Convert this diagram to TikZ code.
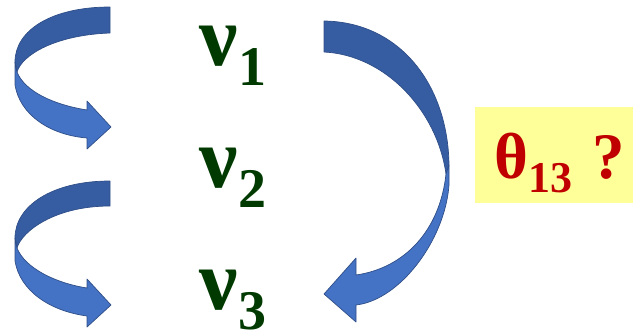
\documentclass[tikz,border=0pt]{standalone}
\usepackage{fontspec}
\newfontfamily\tnr{Liberation Serif}
\definecolor{darkface}{RGB}{54,92,162}
\definecolor{lightface}{RGB}{68,114,196}
\definecolor{edgeblue}{RGB}{47,78,135}
\definecolor{nugreen}{RGB}{0,58,0}
\definecolor{thetared}{RGB}{192,0,0}
\definecolor{boxyellow}{RGB}{255,255,153}
\tikzset{
  darkpart/.style={fill=darkface, draw=edgeblue, line width=0.7pt, line join=round},
  lightpart/.style={fill=lightface, draw=edgeblue, line width=0.7pt, line join=round},
  nulabel/.style={anchor=base west, inner sep=0pt, text height=42pt, text depth=20pt, text=nugreen, font=\tnr\bfseries\fontsize{86}{86}\selectfont},
  thetalabel/.style={anchor=base west, inner sep=0pt, text height=46pt, text depth=14pt, text=thetared, font=\tnr\bfseries\fontsize{65}{65}\selectfont},
}
\newcommand{\nusub}[1]{\raisebox{-20pt}{\fontsize{56}{56}\selectfont #1}}
\begin{document}
\begin{tikzpicture}[x=1pt,y=-1pt]
\useasboundingbox (0,0) rectangle (633,335);
% top-left curved arrow
\begin{scope}
\path[darkpart] (110,7) .. controls (52,7) and (15,30) .. (15,62) -- (17,72)
  .. controls (22,55) and (55,35) .. (110,33) -- cycle;
\path[lightpart] (15,62) -- (15,85) .. controls (20,115) and (50,135) .. (87,138)
  -- (87,149) -- (111,127) -- (87,101) -- (87,110)
  .. controls (55,105) and (25,92) .. (17,72) -- cycle;
\end{scope}
% bottom-left curved arrow
\begin{scope}[yshift=-176pt]
\path[darkpart] (110,5) .. controls (52,5) and (15,30) .. (15,62) -- (17,72)
  .. controls (22,55) and (55,30) .. (110,30) -- cycle;
\path[lightpart] (15,62) -- (15,85) .. controls (20,115) and (50,135) .. (87,140)
  -- (87,151) -- (111,129) -- (87,103) -- (87,112)
  .. controls (55,107) and (25,92) .. (17,72) -- cycle;
\end{scope}
% big right curved arrow
\path[darkpart] (324,21) .. controls (400,22) and (448,85) .. (449,165) -- (446,174)
  .. controls (437,110) and (385,55) .. (324,52) -- cycle;
\path[lightpart] (449,165) -- (449,185) .. controls (445,240) and (400,300) .. (356,305)
  -- (356,322) -- (324,294) -- (356,258) -- (356,275)
  .. controls (405,268) and (440,230) .. (446,174) -- cycle;
% nu labels
\node[nulabel] (nu1) at (199,65) {ν\kern1pt\nusub{1}};
\node[nulabel] (nu2) at (199,187) {ν\kern1pt\nusub{2}};
\node[nulabel] (nu3) at (199,309) {ν\kern1pt\nusub{3}};
% theta box
\node[fill=boxyellow, minimum width=158pt, minimum height=96pt, inner sep=0pt] (box) at (554,155) {};
\node[thetalabel] (theta) at (494,178) {θ\raisebox{-14pt}{\fontsize{44}{44}\selectfont 13}\kern20pt ?};
\end{tikzpicture}
\end{document}
